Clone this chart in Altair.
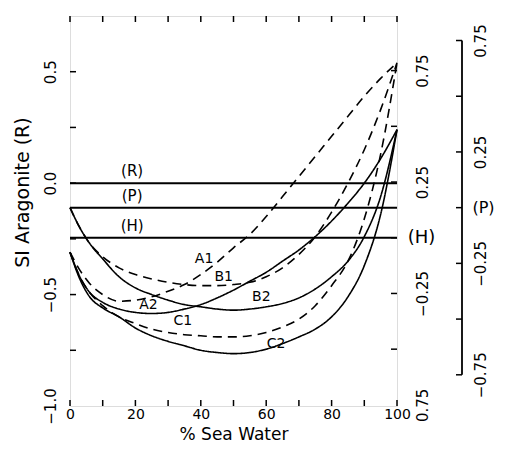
import altair as alt
import pandas as pd

# ---------------- data ----------------
PCT = [0, 3, 6, 10, 15, 20, 25, 30, 35, 40, 45, 50, 55, 60, 65, 70, 75, 80, 85, 90, 95, 100]

A1 = [-0.31, -0.39, -0.45, -0.50, -0.53, -0.525, -0.51, -0.485, -0.455, -0.41, -0.355, -0.29, -0.23, -0.15, -0.06, 0.03, 0.12, 0.21, 0.30, 0.39, 0.47, 0.54]
B1 = [-0.11, -0.20, -0.27, -0.33, -0.38, -0.41, -0.43, -0.445, -0.455, -0.46, -0.46, -0.455, -0.445, -0.42, -0.38, -0.32, -0.24, -0.13, 0.0, 0.15, 0.33, 0.54]
C1 = [-0.31, -0.42, -0.49, -0.55, -0.60, -0.63, -0.655, -0.67, -0.68, -0.685, -0.69, -0.69, -0.685, -0.67, -0.645, -0.61, -0.55, -0.46, -0.35, -0.16, 0.13, 0.54]
A2 = [-0.31, -0.42, -0.49, -0.535, -0.565, -0.58, -0.585, -0.58, -0.565, -0.545, -0.515, -0.48, -0.44, -0.40, -0.35, -0.30, -0.24, -0.17, -0.09, 0.0, 0.11, 0.24]
B2 = [-0.11, -0.20, -0.27, -0.34, -0.42, -0.47, -0.50, -0.525, -0.545, -0.555, -0.565, -0.57, -0.565, -0.555, -0.54, -0.515, -0.475, -0.42, -0.35, -0.24, -0.06, 0.24]
C2 = [-0.31, -0.43, -0.51, -0.56, -0.60, -0.65, -0.685, -0.71, -0.73, -0.75, -0.76, -0.765, -0.76, -0.745, -0.72, -0.69, -0.655, -0.60, -0.51, -0.37, -0.14, 0.24]

CURVES = {"A1": A1, "B1": B1, "C1": C1, "A2": A2, "B2": B2, "C2": C2}
STYLE = {"A1": "dashed", "B1": "dashed", "C1": "dashed", "A2": "solid", "B2": "solid", "C2": "solid"}

# curve labels
LBL_NAMES = ["A1", "B1", "A2", "B2", "C1", "C2"]
LBL_X = [41, 47, 24, 58.5, 34.5, 63]
LBL_Y = [-0.34, -0.42, -0.545, -0.51, -0.62, -0.72]

# horizontal reference levels (in SI Aragonite (R) units)
LEVEL_NAMES = ["(R)", "(P)", "(H)"]
LEVEL_SI = [0.0, -0.11, -0.245]
LEVEL_LABEL_X = 19

X_TICKS = [0, 10, 20, 30, 40, 50, 60, 70, 80, 90, 100]
X_LABELS = [0, 20, 40, 60, 80, 100]
R_TICKS = [-0.75, -0.5, -0.25, 0, 0.25, 0.5]
R_LABELS = [-1.0, -0.5, 0.0, 0.5]
H_TICKS = [-0.5, -0.25, 0, 0.25, 0.5, 0.75]
H_LABELS = [-0.75, -0.25, 0.25, 0.75]
P_TICKS = [-0.75, -0.5, -0.25, 0, 0.25, 0.5, 0.75]
P_LABELS = [-0.75, -0.25, 0.25, 0.75]

R_DOMAIN = [-1.0, 0.75]
H_SHIFT = 0.245   # H = R + H_SHIFT
P_SHIFT = 0.11    # P = R + P_SHIFT

# ---------------- tables ----------------
rows = []
for name, ys in CURVES.items():
    for x, y in zip(PCT, ys):
        rows.append({"curve": name, "style": STYLE[name], "pct": x, "si": y})
df = pd.DataFrame(rows)

levels = pd.DataFrame({"name": LEVEL_NAMES, "si": LEVEL_SI, "pct": [0] * 3, "pct2": [100] * 3,
                       "lx": [LEVEL_LABEL_X] * 3})
labels = pd.DataFrame({"name": LBL_NAMES, "pct": LBL_X, "si": LBL_Y})
xt = pd.DataFrame({"pct": X_TICKS})
rt = pd.DataFrame({"si": R_TICKS})
ht = pd.DataFrame({"h": H_TICKS})
pt = pd.DataFrame({"p": P_TICKS})
pline = pd.DataFrame({"p": [min(P_TICKS)], "p2": [max(P_TICKS)]})

W, H = 327, 390
FONT = "DejaVu Sans"
P_OFF = 65
TICK = 6

xscale = alt.Scale(domain=[0, 100], nice=False, zero=False)
rscale = alt.Scale(domain=R_DOMAIN, nice=False, zero=False)
hscale = alt.Scale(domain=[R_DOMAIN[0] + H_SHIFT, R_DOMAIN[1] + H_SHIFT], nice=False, zero=False)
pscale = alt.Scale(domain=[R_DOMAIN[0] + P_SHIFT, R_DOMAIN[1] + P_SHIFT], nice=False, zero=False)

xaxis = alt.Axis(values=X_LABELS, ticks=False, tickSize=0, domain=False, grid=False,
                 labelPadding=1, labelFlush=False, labelFontSize=14, labelFont=FONT,
                 labelColor="black", title="% Sea Water", titleFontSize=17, titleFont=FONT,
                 titleFontWeight="normal", titleColor="black", titlePadding=5)
raxis = alt.Axis(values=R_LABELS, format=".1f", ticks=False, tickSize=0, domain=False, grid=False,
                 labelAngle=270, labelAlign="center", labelBaseline="bottom", labelPadding=12,
                 labelFontSize=15, labelFont=FONT, labelColor="black",
                 title="SI Aragonite (R)", titleFontSize=19, titleFont=FONT,
                 titleFontWeight="normal", titleColor="black", titleAngle=270,
                 titleX=-48, titleY=176, titleAlign="center", titleBaseline="middle")

X = alt.X("pct:Q", scale=xscale, axis=xaxis)
Y = alt.Y("si:Q", scale=rscale, axis=raxis)

curves = alt.Chart(df).mark_line(color="black", strokeWidth=1.6, interpolate="monotone").encode(
    x=X, y=Y, detail="curve:N",
    strokeDash=alt.StrokeDash("style:N", scale=alt.Scale(domain=["solid", "dashed"], range=[[1, 0], [9, 6]]), legend=None),
)
lev = alt.Chart(levels).mark_rule(color="black", strokeWidth=2).encode(x=X, x2="pct2:Q", y=Y)
lev_txt = alt.Chart(levels).mark_text(font=FONT, fontSize=15, color="black", dy=-12).encode(
    x=alt.X("lx:Q", scale=xscale, axis=xaxis), y=Y, text="name:N")
cur_txt = alt.Chart(labels).mark_text(font=FONT, fontSize=14, color="black").encode(x=X, y=Y, text="name:N")
left_ticks = alt.Chart(rt).mark_rule(color="black", strokeWidth=1.5).encode(
    y=Y, x=alt.value(0), x2=alt.value(TICK))
bot_ticks = alt.Chart(xt).mark_rule(color="black", strokeWidth=1.5).encode(
    x=X, y=alt.value(H), y2=alt.value(H - TICK))
top_ticks = alt.Chart(xt).mark_rule(color="black", strokeWidth=1.5).encode(
    x=X, y=alt.value(0), y2=alt.value(TICK))

main = alt.layer(curves, lev, lev_txt, cur_txt, left_ticks, bot_ticks, top_ticks)

hlayer = alt.Chart(ht).mark_rule(color="black", strokeWidth=1.5).encode(
    y=alt.Y("h:Q", scale=hscale, axis=alt.Axis(
        orient="right", values=H_LABELS,
        labelExpr="datum.value == -0.75 ? '0.75' : format(datum.value, '.2f')",
        ticks=False, tickSize=0, domain=False, grid=False,
        labelAngle=270, labelAlign="center", labelBaseline="top", labelPadding=18,
        labelFontSize=15, labelFont=FONT, labelColor="black",
        title="(H)", titleAngle=0, titleFontSize=18, titleFont=FONT, titleFontWeight="normal",
        titleColor="black", titleX=24, titleY=221, titleAlign="center", titleBaseline="middle")),
    x=alt.value(W - TICK), x2=alt.value(W))

paxis = alt.Axis(
    orient="right", offset=P_OFF, values=P_LABELS, format=".2f",
    ticks=False, tickSize=0, domain=False, grid=False,
    labelAngle=270, labelAlign="center", labelBaseline="top", labelPadding=11,
    labelFontSize=15, labelFont=FONT, labelColor="black",
    title="(P)", titleAngle=0, titleFontSize=16, titleFont=FONT, titleFontWeight="normal",
    titleColor="black", titleX=21, titleY=191, titleAlign="center", titleBaseline="middle")
PY = alt.Y("p:Q", scale=pscale, axis=paxis)
p_line = alt.Chart(pline).mark_rule(color="black", strokeWidth=1.8).encode(
    y=PY, y2="p2:Q", x=alt.value(W + P_OFF))
p_ticks = alt.Chart(pt).mark_rule(color="black", strokeWidth=1.5).encode(
    y=PY, x=alt.value(W + P_OFF - TICK), x2=alt.value(W + P_OFF))
player = alt.layer(p_line, p_ticks)

chart = alt.layer(main, hlayer, player).resolve_scale(y="independent").properties(
    width=W, height=H,
    autosize=alt.AutoSizeParams(type="none"),
    padding={"left": 62, "top": 8, "right": 100, "bottom": 40},
).configure_view(stroke="black", strokeWidth=2).configure(background="white")

chart.save("out.html", embed_options={"renderer": "svg", "actions": False})
